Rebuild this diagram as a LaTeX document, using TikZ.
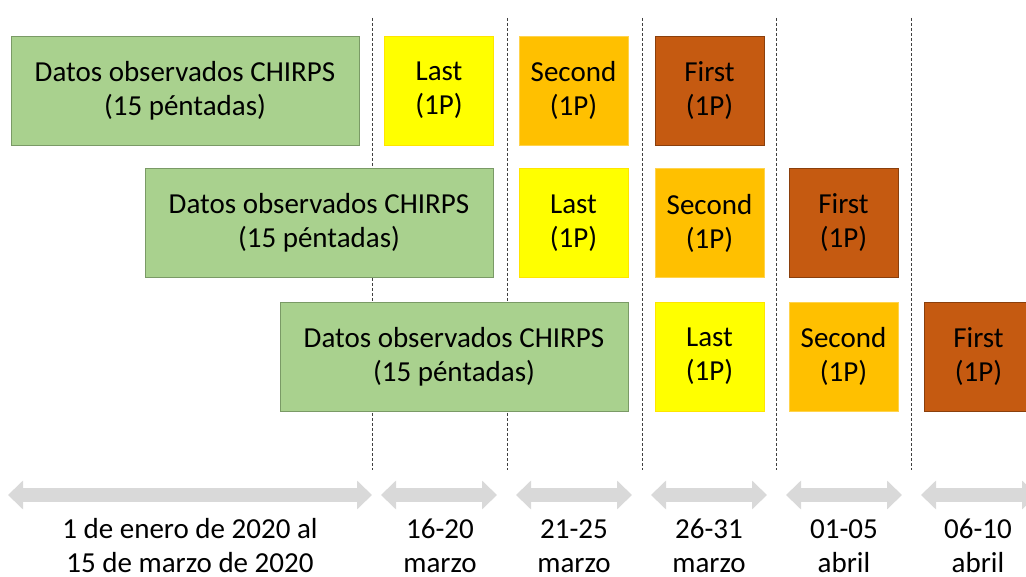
\documentclass[tikz,border=0pt]{standalone}
\usepackage{fontspec}
\setmainfont{Carlito}
\usetikzlibrary{arrows.meta}
\definecolor{obsgreen}{HTML}{A9D18E}
\definecolor{obsline}{HTML}{7A9A66}
\definecolor{lastyellow}{HTML}{FFFF00}
\definecolor{secorange}{HTML}{FFC000}
\definecolor{firstbrown}{HTML}{C55A11}
\definecolor{spangray}{HTML}{D9D9D9}
\begin{document}
\begin{tikzpicture}[x=1pt,y=-1pt]
\tikzstyle{every node}=[font=\fontsize{29}{34}\selectfont,align=center]
\tikzstyle{obs}=[rectangle,fill=obsgreen,draw=obsline,line width=0.8pt,minimum width=348pt,minimum height=109pt]
\tikzstyle{pent}=[rectangle,line width=0.8pt,minimum width=109pt,minimum height=109pt]
\tikzstyle{last}=[pent,fill=lastyellow,draw=lastyellow!80!orange]
\tikzstyle{second}=[pent,fill=secorange,draw=secorange!70!white]
\tikzstyle{first}=[pent,fill=firstbrown,draw=firstbrown!70!black]
\tikzstyle{sep}=[dash pattern=on 3pt off 2pt,line width=0.8pt,black!75]
\tikzstyle{span}=[spangray,line width=14pt,{Triangle[length=15pt,width=28pt]}-{Triangle[length=15pt,width=28pt]}]
\useasboundingbox (0,0) rectangle (1026,577);
\foreach \x in {372,507,642,776,911}
  \draw[sep] (\x,18) -- (\x,470);
\node[obs] (obsa) at (185,90.5) {Datos observados CHIRPS\\(15 péntadas)};
\node[last] (lasta) at (439,90.5) {Last\\(1P)};
\node[second] (seconda) at (573.5,90.5) {Second\\(1P)};
\node[first] (firsta) at (709.5,90.5) {First\\(1P)};
\node[obs] (obsb) at (319,223) {Datos observados CHIRPS\\(15 péntadas)};
\node[last] (lastb) at (573.5,223) {Last\\(1P)};
\node[second] (secondb) at (709.5,223) {Second\\(1P)};
\node[first] (firstb) at (843.5,223) {First\\(1P)};
\node[obs] (obsc) at (454,356.5) {Datos observados CHIRPS\\(15 péntadas)};
\node[last] (lastc) at (709.5,356.5) {Last\\(1P)};
\node[second] (secondc) at (843.5,356.5) {Second\\(1P)};
\node[first] (firstc) at (978.5,356.5) {First\\(1P)};
\coordinate (sa1) at (8,495);   \coordinate (sa2) at (372,495);
\coordinate (sb1) at (381,495); \coordinate (sb2) at (497,495);
\coordinate (sc1) at (516,495); \coordinate (sc2) at (632,495);
\coordinate (sd1) at (651,495); \coordinate (sd2) at (767,495);
\coordinate (se1) at (786,495); \coordinate (se2) at (902,495);
\coordinate (sf1) at (921,495); \coordinate (sf2) at (1037,495);
\draw[span] (sa1) -- (sa2);
\draw[span] (sb1) -- (sb2);
\draw[span] (sc1) -- (sc2);
\draw[span] (sd1) -- (sd2);
\draw[span] (se1) -- (se2);
\draw[span] (sf1) -- (sf2);
\node (datea) at (190,546) {1 de enero de 2020 al\\15 de marzo de 2020};
\node (dateb) at (440,546) {16-20\\marzo};
\node (datec) at (574,546) {21-25\\marzo};
\node (dated) at (709,546) {26-31\\marzo};
\node (datee) at (844,546) {01-05\\abril};
\node (datef) at (978,546) {06-10\\abril};
\end{tikzpicture}
\end{document}
